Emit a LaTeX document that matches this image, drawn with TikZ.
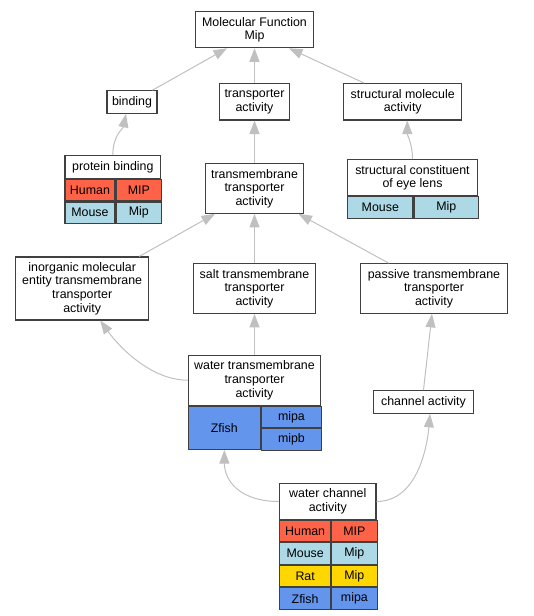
\documentclass[tikz,border=0pt]{standalone}
\usepackage{fontspec}
\setmainfont{Liberation Sans}
\usepackage{tikz}
\usetikzlibrary{
  arrows.meta,
  positioning
}
\definecolor{boxline}{HTML}{404040}
\definecolor{edgegray}{HTML}{C0C0C0}
\definecolor{humanred}{HTML}{FF6347}
\definecolor{mouseblue}{HTML}{ADD8E6}
\definecolor{ratgold}{HTML}{FFD700}
\definecolor{fishblue}{HTML}{6495ED}
\newcommand\termfont{\fontsize{12.4}{13.6}\selectfont}
\tikzset{
  >={Triangle[length=13.5pt, width=10pt]},
  term/.style={draw=boxline, line width=1.1pt, fill=white, align=center, inner sep=0pt, font=\termfont},
  cell/.style={term, minimum height=21.5pt, anchor=north west},
  isa/.style={->, draw=edgegray, line width=1pt}
}

\begin{document}
\begin{tikzpicture}[x=1pt, y=-1pt]
    \useasboundingbox (0,0) rectangle (533,616);

    \node[term, minimum width=117.7pt, minimum height=36pt] (mf) at (254.5,29.7) {Molecular Function\\Mip};
    \node[term, minimum width=50pt, minimum height=22.6pt] (bind) at (132,102) {binding};
    \node[term, minimum width=70.7pt, minimum height=36.3pt] (trans) at (254.5,101.8) {transporter\\activity};
    \node[term, minimum width=118pt, minimum height=36.3pt] (smol) at (402.7,101.8) {structural molecule\\activity};

    \node[term, minimum width=95.7pt, minimum height=22.6pt] (pb) at (112.8,167) {protein binding};
    \node[cell, fill=humanred, minimum width=50pt] (pbH) at (pb.south west) {Human};
    \node[cell, fill=humanred, minimum width=45.7pt] (pbHg) at (pbH.north east) {MIP};
    \node[cell, fill=mouseblue, minimum width=50pt] (pbM) at (pbH.south west) {Mouse};
    \node[cell, fill=mouseblue, minimum width=45.7pt] (pbMg) at (pbM.north east) {Mip};

    \node[term, minimum width=98.7pt, minimum height=49.6pt] (tmt) at (254.5,188.5) {transmembrane\\transporter\\activity};

    \node[term, minimum width=129.7pt, minimum height=36pt] (sce) at (412.5,177.7) {structural constituent\\of eye lens};
    \node[cell, fill=mouseblue, minimum width=65.3pt] (sceM) at (sce.south west) {Mouse};
    \node[cell, fill=mouseblue, minimum width=64.4pt] (sceMg) at (sceM.north east) {Mip};

    \node[term, minimum width=133pt, minimum height=63pt] (inorg) at (82.2,288.5) {inorganic molecular\\entity transmembrane\\transporter\\activity};
    \node[term, minimum width=122.7pt, minimum height=49.6pt] (salt) at (254.5,288.5) {salt transmembrane\\transporter\\activity};
    \node[term, minimum width=146.7pt, minimum height=49.6pt] (pass) at (434,288.5) {passive transmembrane\\transporter\\activity};

    \node[term, minimum width=132pt, minimum height=49.7pt] (wtr) at (254.5,380.2) {water transmembrane\\transporter\\activity};
    \node[cell, fill=fishblue, minimum width=71.7pt, minimum height=43.3pt] (wtrZ) at (wtr.south west) {Zfish};
    \node[cell, fill=fishblue, minimum width=60.3pt, minimum height=21.65pt] (wtrZa) at (wtrZ.north east) {mipa};
    \node[cell, fill=fishblue, minimum width=60.3pt, minimum height=21.65pt] (wtrZb) at (wtrZa.south west) {mipb};

    \node[term, minimum width=99.6pt, minimum height=22.6pt] (chan) at (423.5,402) {channel activity};

    \node[term, minimum width=96.3pt, minimum height=35.6pt] (wca) at (327.8,501.5) {water channel\\activity};
    \node[cell, fill=humanred, minimum width=51pt, minimum height=21.4pt] (wcaH) at (wca.south west) {Human};
    \node[cell, fill=humanred, minimum width=45.3pt, minimum height=21.4pt] (wcaHg) at (wcaH.north east) {MIP};
    \node[cell, fill=mouseblue, minimum width=51pt, minimum height=21.4pt] (wcaM) at (wcaH.south west) {Mouse};
    \node[cell, fill=mouseblue, minimum width=45.3pt, minimum height=21.4pt] (wcaMg) at (wcaM.north east) {Mip};
    \node[cell, fill=ratgold, minimum width=51pt, minimum height=21.4pt] (wcaR) at (wcaM.south west) {Rat};
    \node[cell, fill=ratgold, minimum width=45.3pt, minimum height=21.4pt] (wcaRg) at (wcaR.north east) {Mip};
    \node[cell, fill=fishblue, minimum width=51pt, minimum height=21.4pt] (wcaZ) at (wcaR.south west) {Zfish};
    \node[cell, fill=fishblue, minimum width=45.3pt, minimum height=21.4pt] (wcaZg) at (wcaZ.north east) {mipa};

    \draw[isa] ([xshift=-5pt]bind.north east) -- ([xshift=-27.5pt]mf.south);
    \draw[isa] (trans) -- (mf);
    \draw[isa] ([xshift=21pt]smol.north west) -- ([xshift=34.5pt]mf.south);
    \draw[isa] (pb.north) .. controls +(0,-20) and +(-3,15) .. ([xshift=-6pt]bind.south);
    \draw[isa] (tmt) -- (trans);
    \draw[isa] (sce.north) .. controls +(0,-15) and +(0,15) .. ([xshift=4.6pt]smol.south);
    \draw[isa] ([xshift=-10pt]inorg.north east) -- ([xshift=-39.5pt]tmt.south);
    \draw[isa] (salt) -- (tmt);
    \draw[isa] ([xshift=28.6pt]pass.north west) -- ([xshift=44pt]tmt.south);
    \draw[isa] (wtr.west) .. controls +(-38,0) and +(18,25) .. ([xshift=18pt]inorg.south);
    \draw[isa] (wtr) -- (salt);
    \draw[isa] (chan.north) -- ([xshift=-2pt]pass.south);
    \draw[isa] (wca.west) .. controls +(-40,0) and +(0,30) .. (wtrZ.south);
    \draw[isa] (wca.east) .. controls +(40,0) and +(-3,35) .. ([xshift=6.5pt]chan.south);
\end{tikzpicture}
\end{document}
